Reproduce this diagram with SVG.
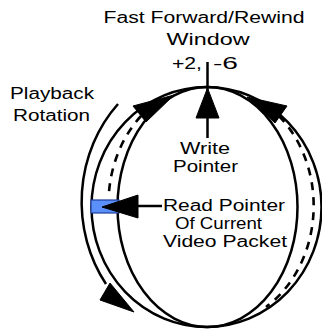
<svg xmlns="http://www.w3.org/2000/svg" width="322" height="330" viewBox="0 0 322 330">
<style>
.ln{fill:none;stroke:#000;stroke-width:2.5}
.dash{fill:none;stroke:#000;stroke-width:2.6;stroke-dasharray:8 7}
.ah{fill:#000;stroke:#000;stroke-width:1;stroke-linejoin:miter}
.t{font-family:"Liberation Sans",Arial,sans-serif;font-size:16px;fill:#000}
</style>
<rect width="322" height="330" fill="#fff"/>
<g id="buffer-ring">
<ellipse class="ln" cx="206.5" cy="207" rx="115" ry="120"/>
<ellipse class="ln" cx="207.5" cy="207" rx="90" ry="120"/>
</g>
<g id="read-slot">
<rect x="91" y="200" width="28" height="13" fill="#5b8ff9" stroke="#1f3d99" stroke-width="1.2"/>
</g>
<g id="connectors">
<path class="dash" d="M 141 116 A 103 120 0 0 0 109 192"/>
<path class="dash" d="M 279 116 A 103 120 0 0 1 266 307"/>
<path class="ln" d="M 118 104 A 130 141 0 0 0 106 284"/>
<polygon class="ah" points="110,283 100,300 134,312"/>
<polygon class="ah" points="174,95 133,106 146,122"/>
<polygon class="ah" points="247,97 287,106 275,123"/>
<line class="ln" x1="207.5" y1="62" x2="207.5" y2="90"/>
<polygon class="ah" points="207.5,88 196,118 219,118"/>
<line class="ln" x1="207.5" y1="118" x2="207.5" y2="138"/>
<polygon class="ah" points="102,207 138,195 138,218"/>
<line class="ln" x1="138" y1="206" x2="162" y2="206"/>
</g>
<g id="window-label">
<text class="t" x="103.5" y="23" textLength="201" lengthAdjust="spacingAndGlyphs">Fast Forward/Rewind</text>
<text class="t" x="166.5" y="45" textLength="83" lengthAdjust="spacingAndGlyphs">Window</text>
<text class="t" x="172" y="69" textLength="30" lengthAdjust="spacingAndGlyphs">+2,</text>
<text class="t" x="213" y="69" textLength="25" lengthAdjust="spacingAndGlyphs">-6</text>
</g>
<g id="playback-label">
<text class="t" x="10" y="99" textLength="84" lengthAdjust="spacingAndGlyphs">Playback</text>
<text class="t" x="13" y="121" textLength="77" lengthAdjust="spacingAndGlyphs">Rotation</text>
</g>
<g id="write-label">
<text class="t" x="180" y="154" textLength="50" lengthAdjust="spacingAndGlyphs">Write</text>
<text class="t" x="173" y="172" textLength="65" lengthAdjust="spacingAndGlyphs">Pointer</text>
</g>
<g id="read-label">
<text class="t" x="163" y="211" textLength="122" lengthAdjust="spacingAndGlyphs">Read Pointer</text>
<text class="t" x="175" y="229" textLength="87" lengthAdjust="spacingAndGlyphs">Of Current</text>
<text class="t" x="163" y="247" textLength="124" lengthAdjust="spacingAndGlyphs">Video Packet</text>
</g>
</svg>
